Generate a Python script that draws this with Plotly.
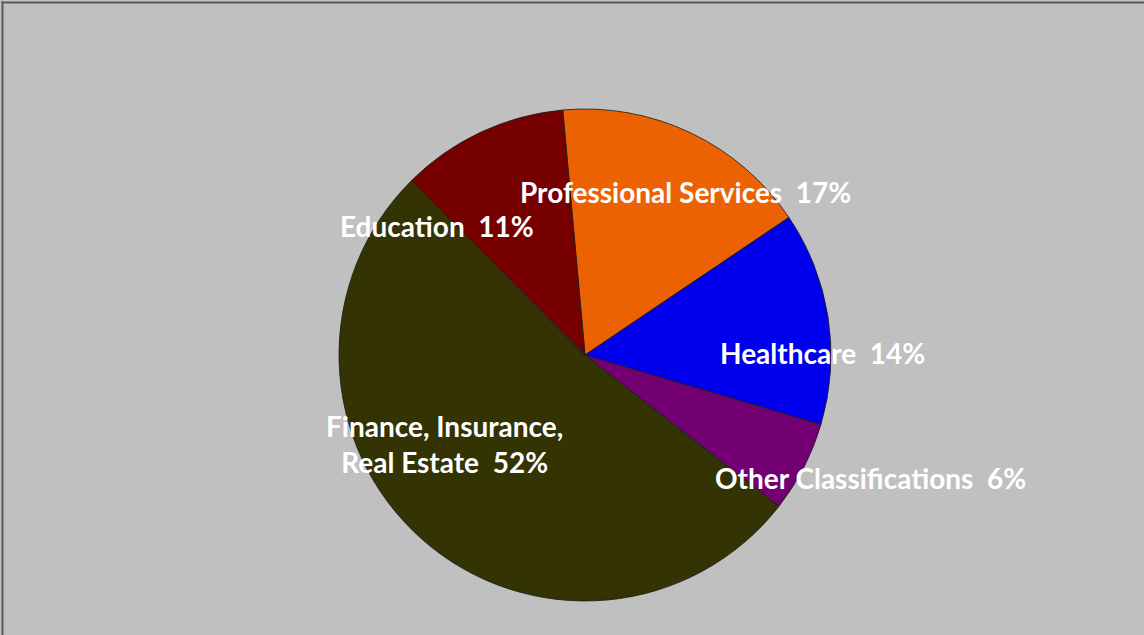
import plotly.graph_objects as go

W, H = 1144, 635

sectors = ['Professional Services', 'Healthcare', 'Other Classifications',
           'Finance, Insurance,<br>Real Estate', 'Education']
shares = [17, 14, 6, 52, 11]
colors = ['#EC6102', '#0000EE', '#730073', '#333303', '#760000']

# label centres in pixels (x, y from top)
label_pos = [(685, 192), (822, 353), (870, 478), (444, 444), (437, 226)]

cx, cy, r = 585, 355, 246

fig = go.Figure()

fig.add_trace(
    go.Pie(
        labels = sectors,
        values = shares,
        sort = False,
        direction = 'clockwise',
        rotation = -5.2,
        marker = dict(colors = colors, line = dict(color = '#1a1a1a', width = 0.8)),
        textinfo = 'none',
        hoverinfo = 'label+percent',
        showlegend = False,
        domain = dict(
            x = [(cx - r) / W, (cx + r) / W],
            y = [(H - cy - r) / H, (H - cy + r) / H],
        ),
    )
)

total = sum(shares)
annotations = []
for name, val, (px, py) in zip(sectors, shares, label_pos):
    annotations.append(
        go.layout.Annotation(
            showarrow = False,
            text = '{}\u00a0\u00a0{}%'.format(name, round(100 * val / total)),
            x = px / W,
            y = 1 - py / H,
            xref = 'paper',
            yref = 'paper',
            xanchor = 'center',
            yanchor = 'middle',
            align = 'center',
            font = dict(family = 'Lato', size = 28, color = 'white', weight = 'bold'),
        )
    )

fig.update_layout(
    width = W,
    height = H,
    margin = dict(l = 0, r = 0, t = 0, b = 0),
    paper_bgcolor = '#C0C0C0',
    plot_bgcolor = '#C0C0C0',
    annotations = annotations,
    shapes = [
        dict(type = 'line', xref = 'paper', yref = 'paper',
             x0 = 2.5 / W, x1 = 2.5 / W, y0 = 0, y1 = 1 - 1.5 / H,
             line = dict(color = '#5a5a5a', width = 2)),
        dict(type = 'line', xref = 'paper', yref = 'paper',
             x0 = 1.5 / W, x1 = 1, y0 = 1 - 2.5 / H, y1 = 1 - 2.5 / H,
             line = dict(color = '#5a5a5a', width = 2)),
    ],
)

fig.write_html(
    "out.html",
    config = {'displayModeBar': False},
    post_script = "document.body.style.margin = '0';",
)
